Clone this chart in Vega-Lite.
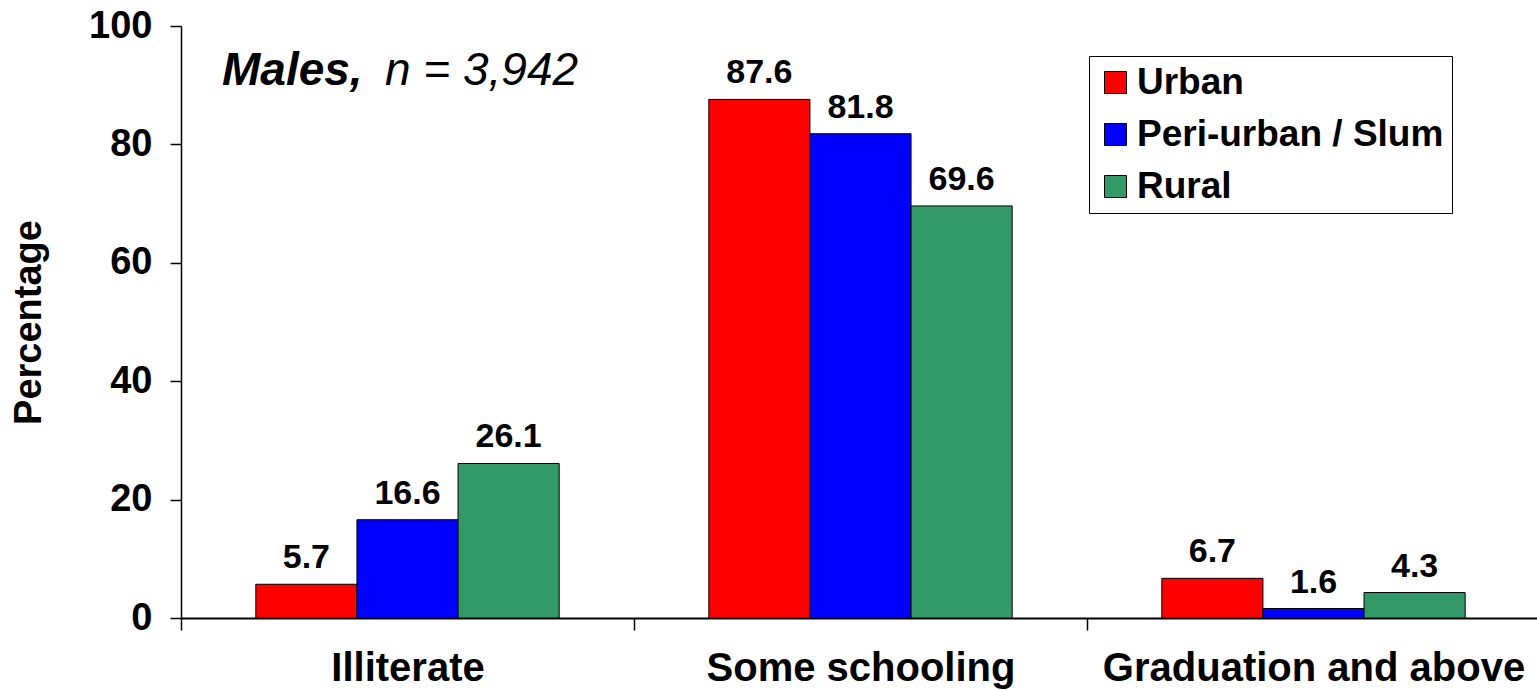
{
  "$schema": "https://vega.github.io/schema/vega-lite/v6.json",
  "autosize": {"type": "none"},
  "padding": {"left": 181, "top": 26, "right": 0, "bottom": 72},
  "width": 1359,
  "height": 592,
  "background": "white",
  "config": {
    "font": "Liberation Sans",
    "view": {"stroke": null}
  },
  "datasets": {
    "bars": [
      {"level": "Illiterate", "area": "Urban", "pct": 5.7},
      {"level": "Illiterate", "area": "Peri-urban / Slum", "pct": 16.6},
      {"level": "Illiterate", "area": "Rural", "pct": 26.1},
      {"level": "Some schooling", "area": "Urban", "pct": 87.6},
      {"level": "Some schooling", "area": "Peri-urban / Slum", "pct": 81.8},
      {"level": "Some schooling", "area": "Rural", "pct": 69.6},
      {"level": "Graduation and above", "area": "Urban", "pct": 6.7},
      {"level": "Graduation and above", "area": "Peri-urban / Slum", "pct": 1.6},
      {"level": "Graduation and above", "area": "Rural", "pct": 4.3}
    ],
    "note": [
      {"level": "Illiterate", "pct": 90, "bold": "Males,", "rest": "n = 3,942"}
    ]
  },
  "layer": [
    {
      "data": {"name": "bars"},
      "mark": {"type": "bar", "stroke": "black", "strokeWidth": 1},
      "encoding": {
        "x": {
          "field": "level",
          "type": "nominal",
          "sort": ["Illiterate", "Some schooling", "Graduation and above"],
          "scale": {"domain": ["Illiterate", "Some schooling", "Graduation and above"], "paddingInner": 0, "paddingOuter": 0},
          "axis": {
            "title": null,
            "labelAngle": 0,
            "labelFontSize": 40,
            "labelFontWeight": "bold",
            "labelColor": "black",
            "labelPadding": 18,
            "labelLimit": 800,
            "tickBand": "extent",
            "tickSize": 12,
            "tickColor": "black",
            "tickWidth": 1.5,
            "domainColor": "black",
            "domainWidth": 2
          }
        },
        "xOffset": {
          "field": "area",
          "type": "nominal",
          "sort": ["Urban", "Peri-urban / Slum", "Rural"],
          "scale": {"paddingInner": 0, "paddingOuter": 0.74}
        },
        "y": {
          "field": "pct",
          "type": "quantitative",
          "scale": {"domain": [0, 100], "nice": false},
          "axis": {
            "title": "Percentage",
            "titleFontSize": 38,
            "titleFontWeight": "bold",
            "titleColor": "black",
            "titlePadding": 40,
            "values": [0, 20, 40, 60, 80, 100],
            "labelFontSize": 38,
            "labelFontWeight": "bold",
            "labelColor": "black",
            "labelPadding": 18,
            "tickSize": 11,
            "tickColor": "black",
            "tickWidth": 1.5,
            "domainColor": "black",
            "domainWidth": 1.5,
            "grid": false
          }
        },
        "color": {
          "field": "area",
          "type": "nominal",
          "sort": ["Urban", "Peri-urban / Slum", "Rural"],
          "scale": {"domain": ["Urban", "Peri-urban / Slum", "Rural"], "range": ["#FF0000", "#0000FF", "#339966"]},
          "legend": {
            "title": null,
            "orient": "none",
            "legendX": 908,
            "legendY": 30,
            "strokeColor": "black",
            "fillColor": "white",
            "padding": 8,
            "labelFontSize": 37,
            "labelFontWeight": "bold",
            "labelColor": "black",
            "labelOffset": 3,
            "labelLimit": 600,
            "symbolType": "square",
            "symbolSize": 484,
            "symbolStrokeColor": "black",
            "symbolStrokeWidth": 1,
            "symbolOpacity": 1,
            "rowPadding": 14
          }
        }
      }
    },
    {
      "data": {"name": "bars"},
      "mark": {"type": "text", "baseline": "bottom", "dy": -9, "fontSize": 34, "fontWeight": "bold", "color": "black"},
      "encoding": {
        "x": {"field": "level", "type": "nominal", "sort": ["Illiterate", "Some schooling", "Graduation and above"]},
        "xOffset": {"field": "area", "type": "nominal", "sort": ["Urban", "Peri-urban / Slum", "Rural"]},
        "y": {"field": "pct", "type": "quantitative"},
        "text": {"field": "pct", "type": "quantitative", "format": ".1f"}
      }
    },
    {
      "mark": {"type": "rule", "color": "black", "strokeWidth": 2},
      "encoding": {"y": {"datum": 100}}
    },
    {
      "data": {"name": "note"},
      "mark": {"type": "text", "align": "left", "baseline": "alphabetic", "dx": 41, "fontSize": 46, "fontWeight": "bold", "fontStyle": "italic", "color": "black"},
      "encoding": {
        "x": {"field": "level", "type": "nominal", "sort": ["Illiterate", "Some schooling", "Graduation and above"], "bandPosition": 0},
        "y": {"field": "pct", "type": "quantitative"},
        "text": {"field": "bold"}
      }
    },
    {
      "data": {"name": "note"},
      "mark": {"type": "text", "align": "left", "baseline": "alphabetic", "dx": 204, "fontSize": 46, "fontStyle": "italic", "color": "black"},
      "encoding": {
        "x": {"field": "level", "type": "nominal", "sort": ["Illiterate", "Some schooling", "Graduation and above"], "bandPosition": 0},
        "y": {"field": "pct", "type": "quantitative"},
        "text": {"field": "rest"}
      }
    }
  ]
}
